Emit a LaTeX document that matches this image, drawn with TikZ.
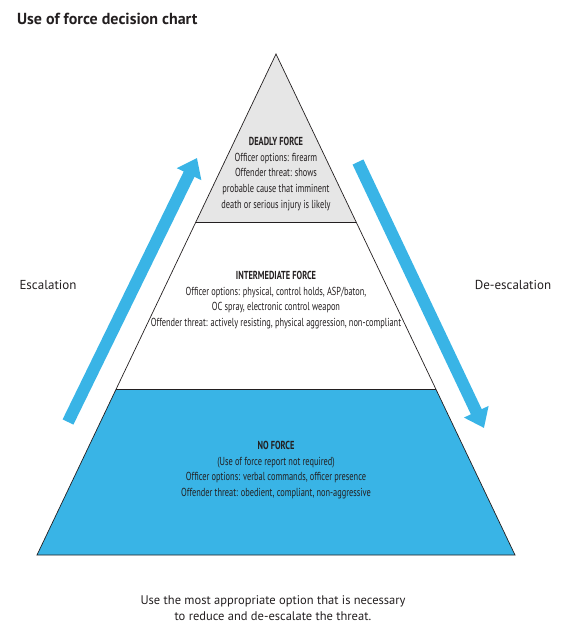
\documentclass[tikz,border=0pt]{standalone}
\usepackage{fontspec}
\setmainfont{PT Sans}
\newfontfamily\condfont[FakeStretch=0.72]{PT Sans}
\usetikzlibrary{arrows.meta}
\definecolor{fblue}{HTML}{39B4E6}
\definecolor{fgray}{HTML}{E6E6E6}
\definecolor{ink}{HTML}{231F20}
\tikzset{
  bigarrow/.style={draw=fblue, line width=12pt, -{Triangle[width=26pt,length=18pt]}},
  edge/.style={draw=ink, line width=0.7pt},
  bandtext/.style={align=center, inner sep=0pt, text=ink, font=\condfont\fontsize{11.6}{15.6}\selectfont},
  plain/.style={inner sep=0pt, text=ink, font=\fontsize{13}{15}\selectfont},
}
\begin{document}
\begin{tikzpicture}[x=1pt,y=-1pt]
\useasboundingbox (0,0) rectangle (560,632);
% triangle geometry
\coordinate (apex) at (276,54);
\coordinate (bl) at (37,555);
\coordinate (br) at (515,555);
\coordinate (dl) at (195.9,222);
\coordinate (dr) at (356.1,222);
\coordinate (il) at (116.2,389);
\coordinate (ir) at (435.8,389);
% fills
\fill[fgray] (apex) -- (dr) -- (dl) -- cycle;
\fill[fblue] (il) -- (ir) -- (br) -- (bl) -- cycle;
% outlines
\draw[edge, line join=miter] (apex) -- (br) -- (bl) -- cycle;
\draw[edge] (dl) -- (dr);
\draw[edge] (il) -- (ir);
% arrows
\coordinate (esc0) at (68,422);
\coordinate (esc1) at (197,158);
\coordinate (des0) at (358,162);
\coordinate (des1) at (484,428);
\draw[bigarrow] (esc0) -- (esc1);
\draw[bigarrow] (des0) -- (des1);
% texts
\node[plain, anchor=west, font=\bfseries\fontsize{16}{18}\selectfont] (title) at (17,19) {Use of force decision chart};
\node[bandtext] (deadly) at (276,174) {{\bfseries DEADLY FORCE}\\Officer options: firearm\\Offender threat: shows\\probable cause that imminent\\death or serious injury is likely};
\node[bandtext] (inter) at (276,300) {{\bfseries INTERMEDIATE FORCE}\\Officer options: physical, control holds, ASP/baton,\\OC spray, electronic control weapon\\Offender threat: actively resisting, physical aggression, non-compliant};
\node[bandtext] (noforce) at (276,470) {{\bfseries NO FORCE}\\(Use of force report not required)\\Officer options: verbal commands, officer presence\\Offender threat: obedient, compliant, non-aggressive};
\node[plain] (esclabel) at (48,285) {Escalation};
\node[plain] (deslabel) at (513,285) {De-escalation};
\node[plain, align=center, font=\fontsize{12.5}{16}\selectfont] (note) at (273,608) {Use the most appropriate option that is necessary\\to reduce and de-escalate the threat.};
\end{tikzpicture}
\end{document}
